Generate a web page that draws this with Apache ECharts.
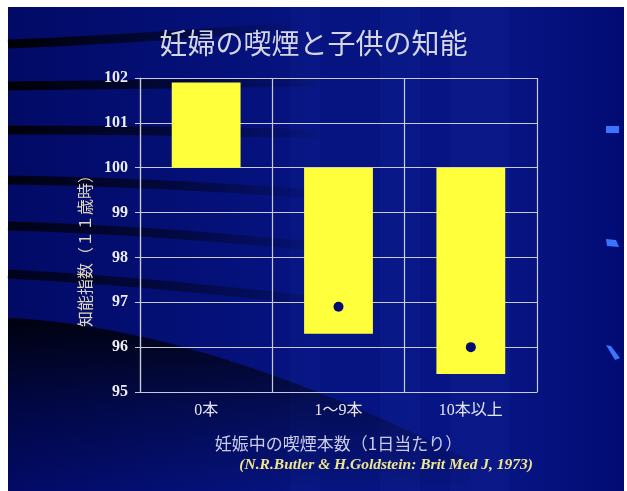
<!DOCTYPE html>
<html>
<head>
<meta charset="utf-8">
<script src="https://cdn.jsdelivr.net/npm/echarts@6/dist/echarts.min.js"></script>
<style>
html,body{margin:0;padding:0;background:#ffffff;}
#chart{width:627px;height:491px;}
</style>
</head>
<body>
<div id="chart"></div>
<script>
// ---- data ----
const categories = ['0本', '1～9本', '10本以上'];
const barEnds = [101.9, 96.3, 95.4];      // bar extends from baseline to this value
const baseline = 100;
const dotValues = ['-', 96.9, 96.0];      // mean markers
const yMin = 95, yMax = 102, yStep = 1;

const titleText = '妊婦の喫煙と子供の知能';
const yName = '知能指数（１１歳時）';
const xName = '妊娠中の喫煙本数（1日当たり）';
const citation = '(N.R.Butler & H.Goldstein: Brit Med J, 1973)';

// derived for floating bars
const barBase = barEnds.map(v => Math.min(v, baseline));
const barSpan = barEnds.map(v => Math.abs(v - baseline));

const chart = echarts.init(document.getElementById('chart'), null, {renderer: 'canvas'});

function fadeStroke(a) {
  return {type: 'linear', x: 0, y: 0, x2: 1, y2: 0, global: false,
    colorStops: [{offset: 0, color: 'rgba(0,0,0,' + a + ')'}, {offset: 0.55, color: 'rgba(0,0,0,' + (a * 0.5) + ')'}, {offset: 1, color: 'rgba(0,0,0,0)'}]};
}
function swoosh(x1, y1, cx, cy, x2, y2, w, a) {
  return {type: 'bezierCurve', z: -5, silent: true,
    shape: {x1: x1, y1: y1, cpx1: cx, cpy1: cy, x2: x2, y2: y2},
    style: {fill: null, stroke: fadeStroke(a), lineWidth: w}};
}
// decorative dark region outline (quadratic curve sampled)
const darkPts = [];
for (let i = 0; i <= 20; i++) {
  const t = i / 20;
  const x = (1 - t) * (1 - t) * 8 + 2 * (1 - t) * t * 200 + t * t * 470;
  const y = (1 - t) * (1 - t) * 318 + 2 * (1 - t) * t * 326 + t * t * 460;
  darkPts.push([x, y]);
}
darkPts.push([470, 491], [8, 491]);

const option = {
  backgroundColor: '#ffffff',
  animation: false,
  graphic: [
    {type: 'rect', z: -10, silent: true, shape: {x: 8, y: 7, width: 616, height: 484},
      style: {fill: {type: 'linear', x: 0, y: 0, x2: 1, y2: 0,
        colorStops: [{offset: 0, color: '#020a66'}, {offset: 0.5, color: '#061482'}, {offset: 0.8, color: '#071584'}, {offset: 1, color: '#020b74'}]}}},
    {type: 'rect', z: -9, silent: true, shape: {x: 380, y: 7, width: 40, height: 484}, style: {fill: 'rgba(70,100,220,0.06)'}},
    {type: 'rect', z: -9, silent: true, shape: {x: 450, y: 7, width: 60, height: 484}, style: {fill: 'rgba(70,100,220,0.05)'}},
    {type: 'rect', z: -9, silent: true, shape: {x: 290, y: 7, width: 30, height: 484}, style: {fill: 'rgba(70,100,220,0.04)'}},
    swoosh(8, 44, 120, 40, 300, 26, 9, 0.95),
    swoosh(8, 86, 150, 84, 330, 82, 9, 0.95),
    swoosh(8, 130, 150, 130, 330, 134, 9, 0.9),
    swoosh(8, 180, 160, 182, 340, 196, 9, 0.85),
    swoosh(8, 226, 160, 230, 350, 250, 9, 0.8),
    swoosh(8, 274, 160, 282, 360, 306, 9, 0.75),
    {type: 'polygon', z: -5, silent: true,
      shape: {points: darkPts},
      style: {fill: {type: 'linear', x: 0, y: 0, x2: 0, y2: 1,
        colorStops: [{offset: 0, color: 'rgba(0,0,0,0.85)'}, {offset: 0.5, color: 'rgba(0,0,0,0.35)'}, {offset: 1, color: 'rgba(0,0,0,0)'}]}}},
    // decorative blue marks on the right
    {type: 'polygon', silent: true, shape: {points: [[606, 126], [619, 126], [619, 133], [606, 133]]}, style: {fill: '#3a74ff'}},
    {type: 'polygon', silent: true, shape: {points: [[606, 239], [616, 240], [619, 247], [607, 246]]}, style: {fill: '#3a74ff'}},
    {type: 'polygon', silent: true, shape: {points: [[606, 345], [611, 346], [620, 358], [615, 360]]}, style: {fill: '#3a74ff'}},
    // citation
    {type: 'text', right: 94, top: 457, silent: true,
      style: {text: citation, fill: '#efe68c', font: 'italic bold 15.5px "Liberation Serif", serif'}}
  ],
  title: {
    text: titleText,
    left: 'center', top: 24,
    textStyle: {color: '#d6d6e0', fontSize: 28, fontWeight: 'normal', fontFamily: '"Noto Sans CJK JP", sans-serif'}
  },
  grid: {left: 140, right: 90, top: 78, bottom: 99, containLabel: false},
  xAxis: {
    type: 'category',
    data: categories,
    boundaryGap: true,
    name: xName,
    nameLocation: 'middle',
    nameGap: 43,
    nameTextStyle: {color: '#c8cce8', fontSize: 17, fontFamily: '"Noto Sans CJK JP", sans-serif'},
    axisLine: {show: true, lineStyle: {color: '#c8cad8', width: 1.2}},
    axisTick: {show: false},
    axisLabel: {color: '#e6e6f0', fontSize: 16, margin: 11, fontFamily: '"Liberation Serif", "Noto Sans CJK JP", serif'},
    splitLine: {show: true, lineStyle: {color: '#c8cad8', width: 1.2}}
  },
  yAxis: {
    type: 'value',
    min: yMin, max: yMax, interval: yStep,
    name: yName,
    nameLocation: 'middle',
    nameGap: 44,
    nameRotate: 90,
    nameTextStyle: {color: '#ddd8b8', fontSize: 16, padding: [0, 24, 0, 0], fontFamily: '"Noto Sans CJK JP", sans-serif'},
    axisLine: {show: true, lineStyle: {color: '#c8cad8', width: 1.2}},
    axisTick: {show: true, length: 5, lineStyle: {color: '#c8cad8'}},
    axisLabel: {color: '#ececf4', fontSize: 16, fontWeight: 'bold', margin: 12, fontFamily: '"Liberation Serif", serif'},
    splitLine: {show: true, lineStyle: {color: '#c8cad8', width: 1.2}}
  },
  series: [
    {type: 'bar', stack: 'f', data: barBase, barWidth: '52%',
      itemStyle: {color: 'rgba(0,0,0,0)'}, silent: true},
    {type: 'bar', stack: 'f', data: barSpan, barWidth: '52%',
      itemStyle: {color: '#ffff3c'}},
    {type: 'scatter', data: dotValues, symbol: 'circle', symbolSize: 10,
      itemStyle: {color: '#020c70', opacity: 1}, z: 5}
  ]
};
chart.setOption(option);
</script>
</body>
</html>
